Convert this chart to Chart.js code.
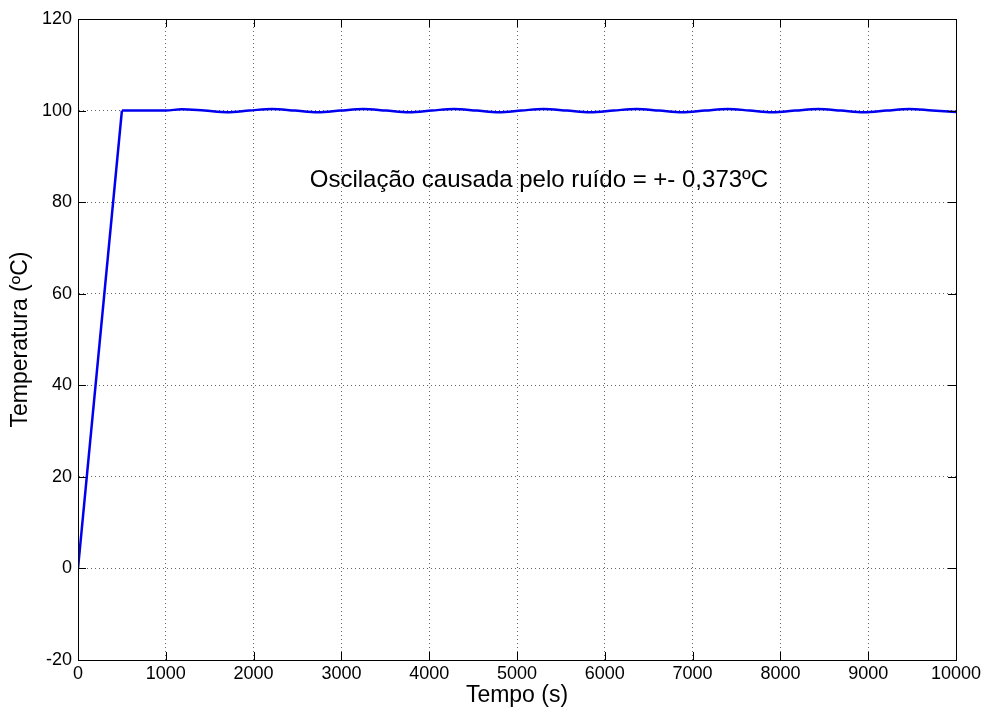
<!DOCTYPE html>
<html>
<head>
<meta charset="utf-8">
<title>Temperatura</title>
<script src="https://cdn.jsdelivr.net/npm/chart.js@4.4.1/dist/chart.umd.min.js"></script>
<style>
  body { margin: 0; background: #fff; }
  #wrap { width: 987px; height: 716px; }
</style>
</head>
<body>
<div id="wrap"><canvas id="mycanvas"></canvas></div>
<script>
var tempo = [0, 500, 1000, 1180, 1440, 1700, 1950, 2210, 2470, 2730, 2990, 3250, 3510, 3770, 4030, 4280, 4540, 4790, 5050, 5300, 5570, 5830, 6100, 6360, 6620, 6880, 7140, 7400, 7650, 7910, 8170, 8430, 8690, 8950, 9210, 9470, 9730, 10000];
var temperatura = [0, 100, 100, 100.3, 100, 99.65, 100, 100.37, 100, 99.63, 100, 100.37, 100, 99.63, 100, 100.37, 100, 99.63, 100, 100.37, 100, 99.63, 100, 100.37, 100, 99.63, 100, 100.37, 100, 99.63, 100, 100.37, 100, 99.63, 100, 100.37, 100, 99.7];
// a rampa vai do indice 0 ao 1, depois o regime permanente
var fimRampa = 1;

var xTicks = [0, 1000, 2000, 3000, 4000, 5000, 6000, 7000, 8000, 9000, 10000];
var yTicks = [-20, 0, 20, 40, 60, 80, 100, 120];

var nota = 'Oscilação causada pelo ruído = +- 0,373ºC';
var notaX = 2640;
var notaY = 83.3;

var fonte = "'Liberation Sans', Arial, sans-serif";
var azul = '#0000ee';

var rampa = [], regime = [];
for (var i in tempo) {
	var p = {x: tempo[i], y: temperatura[i]};
	if (i <= fimRampa) rampa.push(p);
	if (i >= fimRampa) regime.push(p);
}

// caixa fechada com marcas para dentro, estilo matlab
var caixa = {
	id: 'caixa',
	afterDatasetsDraw: function(chart) {
		var ctx = chart.ctx;
		var a = chart.chartArea;
		var sx = chart.scales.x, sy = chart.scales.y;
		var len = 8;
		ctx.save();
		ctx.strokeStyle = '#000';
		ctx.lineWidth = 1;
		ctx.setLineDash([]);
		ctx.beginPath();
		xTicks.forEach(function(v) {
			var px = Math.round(sx.getPixelForValue(v)) + 0.5;
			ctx.moveTo(px, a.bottom); ctx.lineTo(px, a.bottom - len);
			ctx.moveTo(px, a.top); ctx.lineTo(px, a.top + len);
		});
		yTicks.forEach(function(v) {
			var py = Math.round(sy.getPixelForValue(v)) + 0.5;
			ctx.moveTo(a.left, py); ctx.lineTo(a.left + len, py);
			ctx.moveTo(a.right, py); ctx.lineTo(a.right - len, py);
		});
		ctx.stroke();
		ctx.strokeRect(Math.round(a.left) + 0.5, Math.round(a.top) + 0.5, Math.round(a.right - a.left), Math.round(a.bottom - a.top));

		ctx.fillStyle = '#000';
		ctx.font = '24px ' + fonte;
		ctx.textAlign = 'left';
		ctx.textBaseline = 'alphabetic';
		ctx.fillText(nota, sx.getPixelForValue(notaX), sy.getPixelForValue(notaY));
		ctx.restore();
	}
};

var ctx = document.getElementById('mycanvas');

var grafico = new Chart(ctx, {
	type: 'line',
	data: {
		datasets: [{
			label: 'Rampa',
			data: rampa,
			borderColor: azul,
			borderWidth: 2.5,
			pointRadius: 0,
			fill: false,
			tension: 0
		}, {
			label: 'Temperatura',
			data: regime,
			borderColor: azul,
			borderWidth: 2.5,
			pointRadius: 0,
			fill: false,
			cubicInterpolationMode: 'monotone'
		}]
	},
	options: {
		responsive: true,
		maintainAspectRatio: false,
		animation: false,
		layout: { padding: { top: 19, right: 31, left: 0, bottom: 0 } },
		plugins: {
			legend: { display: false },
			tooltip: { enabled: false }
		},
		scales: {
			x: {
				type: 'linear',
				min: 0,
				max: 10000,
				afterBuildTicks: function(scale) {
					scale.ticks = xTicks.map(function(v) { return {value: v}; });
				},
				afterFit: function(scale) { scale.height = 56; },
				grid: {
					color: 'rgba(0,0,0,0.6)',
					drawTicks: false
				},
				border: { display: true, color: '#000', dash: [1, 3] },
				ticks: {
					color: '#000',
					padding: 3,
					maxRotation: 0,
					font: { family: fonte, size: 18 },
					callback: function(v) { return String(v); }
				},
				title: {
					display: true,
					text: 'Tempo (s)',
					color: '#000',
					font: { family: fonte, size: 23 },
					padding: { top: 0, bottom: 7 }
				}
			},
			y: {
				min: -20,
				max: 120,
				afterBuildTicks: function(scale) {
					scale.ticks = yTicks.map(function(v) { return {value: v}; });
				},
				afterFit: function(scale) { scale.width = 78; },
				grid: {
					color: 'rgba(0,0,0,0.6)',
					drawTicks: false
				},
				border: { display: true, color: '#000', dash: [1, 3] },
				ticks: {
					color: '#000',
					padding: 6,
					font: { family: fonte, size: 18 },
					callback: function(v) { return String(v); }
				},
				title: {
					display: true,
					text: 'Temperatura (ºC)',
					color: '#000',
					font: { family: fonte, size: 23 },
					padding: { top: 7, bottom: 0 }
				}
			}
		}
	},
	plugins: [caixa]
});
</script>
</body>
</html>
